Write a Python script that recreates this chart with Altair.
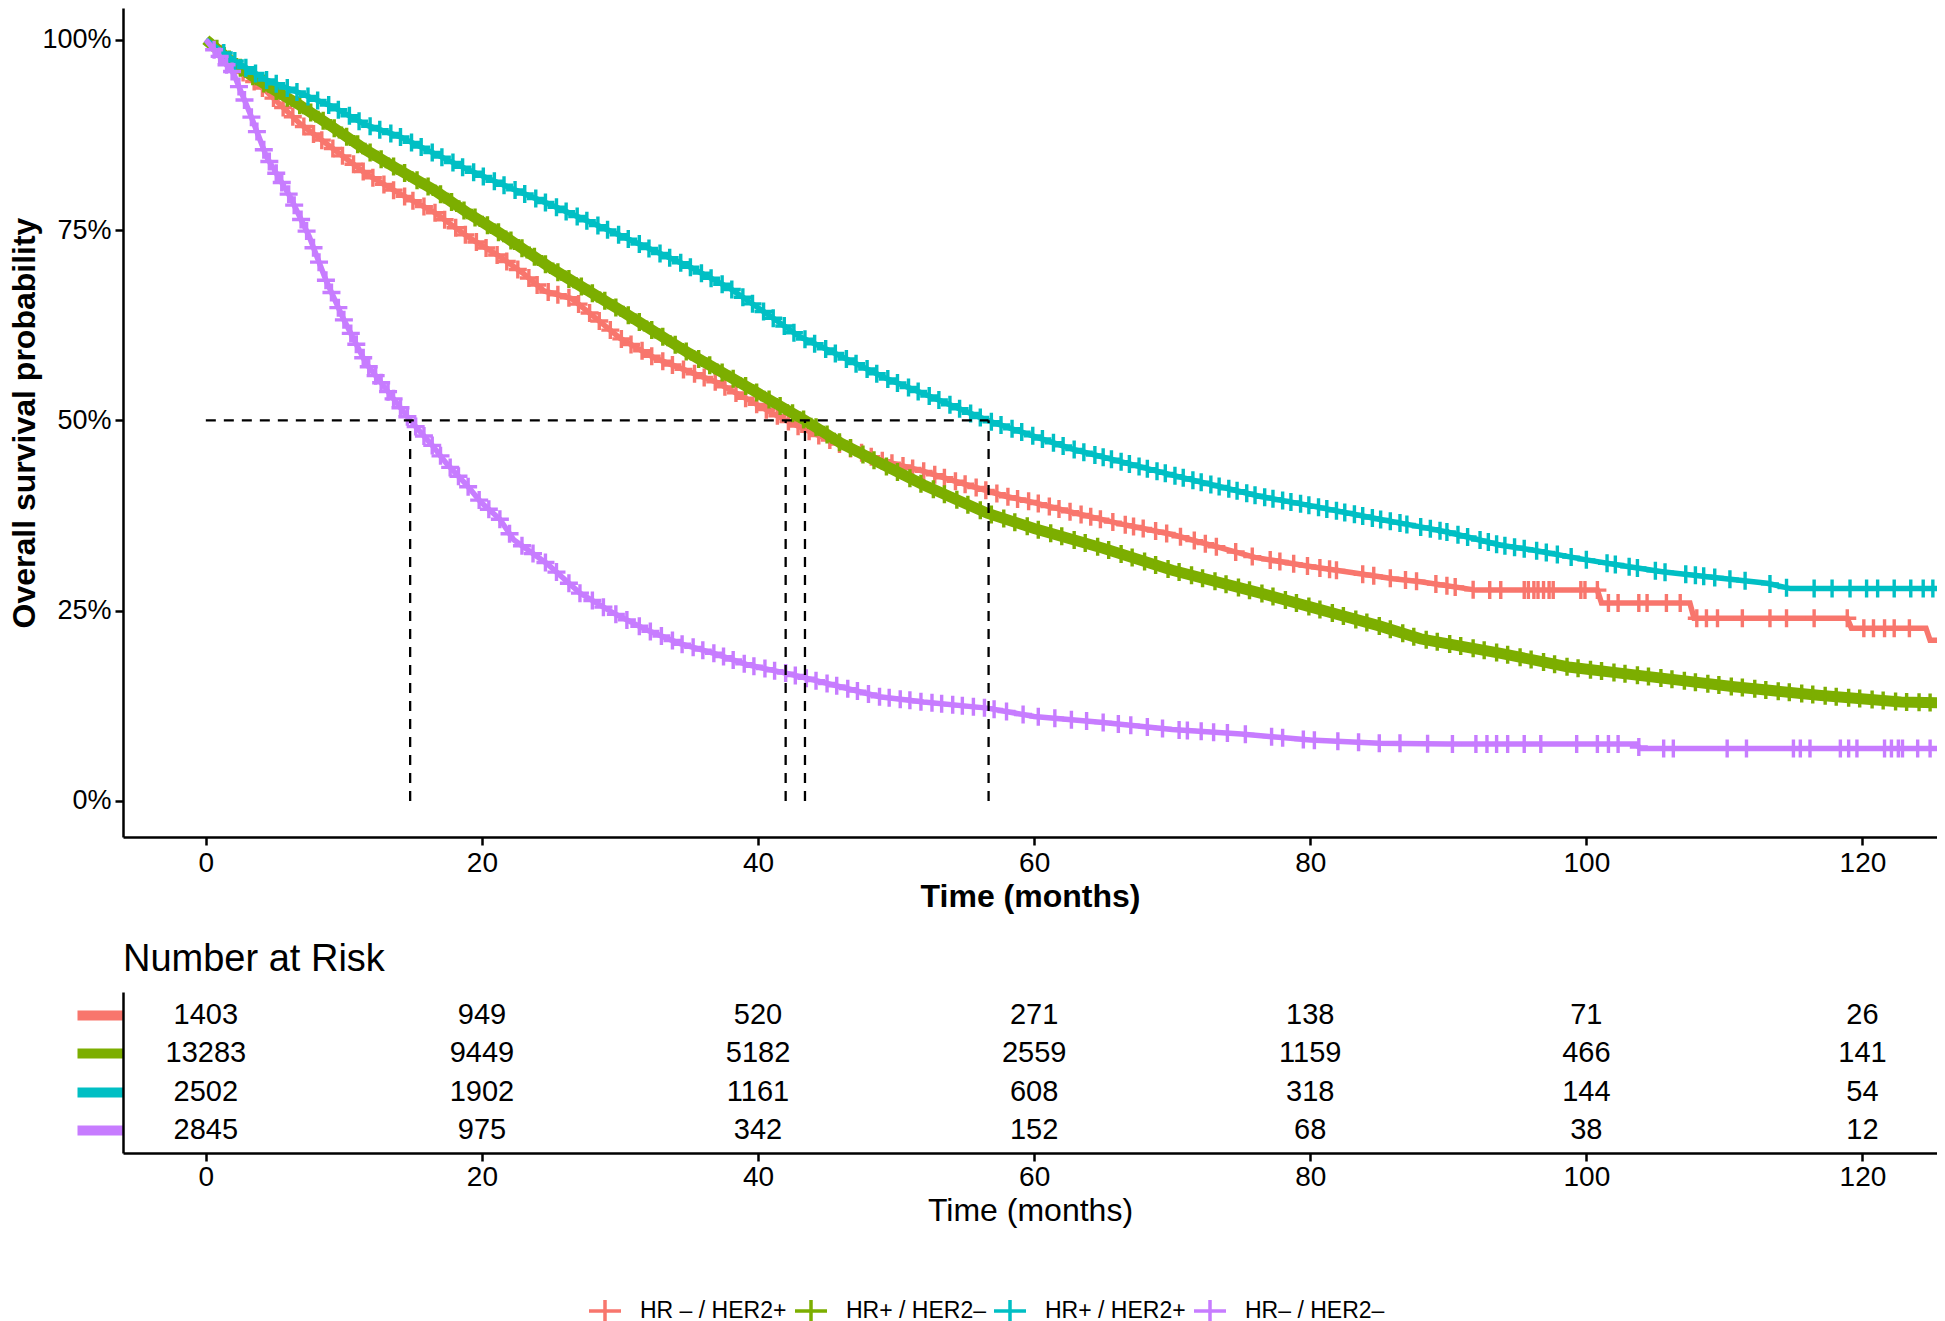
import altair as alt
import pandas as pd
import numpy as np

FONT = "Liberation Sans"
GROUPS = ["HR – / HER2+", "HR+ / HER2–", "HR+ / HER2+", "HR– / HER2–"]
COLORS = ["#F8766D", "#7CAE00", "#00BFC4", "#C77CFF"]
LINE_W = [5.5, 11, 5.5, 5.5]

# ---- survival curves (months, %) ----
red_time = [0, 1, 2, 4.4, 6.8, 9.2, 11.6, 14, 16.5, 19, 21.3, 23, 24.5, 26.5, 28, 30, 32.5, 35, 37, 40,
            42, 44, 46, 48.8, 52, 55, 58, 60, 63, 66, 70, 73, 76, 80, 83, 86, 88, 92, 100.8, 101.1,
            107.5, 107.8, 118.9, 119.2, 124.6, 124.9, 125.7]
red_surv = [100, 98.5, 96.7, 93.2, 89.0, 85.7, 82.4, 79.8, 77.4, 74.1, 71.5, 69.3, 67.0, 66.0, 63.8, 60.8,
            58.2, 56.4, 55.0, 52.0, 50.0, 48.3, 46.8, 44.8, 43.3, 41.6, 40.0, 39.2, 37.8, 36.5, 35.0, 33.5,
            32.0, 30.8, 30.0, 29.2, 28.8, 27.7, 27.7, 26.0, 26.0, 24.0, 24.0, 22.7, 22.7, 21.1, 21.1]

green_time = [0, 1, 2, 4.4, 6.8, 9.2, 11.6, 14, 16.5, 19, 21.3, 25, 30, 35, 39.2, 43.4, 46, 48.8, 52,
              56.6, 60, 65, 70, 76.4, 80, 85, 88, 93.8, 98.7, 104.7, 110.7, 116.8, 122.8, 126]
green_surv = [100, 98.5, 96.9, 94.0, 91.4, 88.5, 85.5, 82.9, 80.3, 77.2, 74.6, 70.0, 64.5, 58.8, 54.4,
              50.0, 47.0, 44.4, 41.5, 37.8, 35.8, 33.2, 30.3, 27.3, 25.5, 23.0, 21.3, 19.4, 17.6, 16.3,
              15.0, 13.9, 13.0, 12.9]

teal_time = [0, 2, 4.4, 6.8, 9.2, 11.6, 14, 16.5, 19, 21.3, 25, 30, 35, 38, 40, 43, 45, 49.3, 52, 56.6,
             60, 63, 66.2, 70, 76.4, 80, 85, 88, 90, 93.8, 96, 99.9, 103, 105.5, 108.6, 113.1, 114.8, 126]
teal_surv = [100, 97.3, 94.7, 93.0, 91.2, 88.8, 87.3, 85.1, 82.9, 81.1, 78.3, 74.3, 70.2, 67.3, 64.8,
             61.0, 59.3, 55.5, 53.5, 50.0, 47.9, 46.1, 44.6, 42.8, 40.0, 38.8, 37.0, 36.0, 35.3, 33.6,
             33.0, 31.7, 30.8, 30.1, 29.5, 28.6, 27.9, 27.9]

purple_time = [0, 2, 3.2, 4.4, 6.1, 7.5, 8.7, 10, 11.6, 13.1, 14.8, 16.5, 17.4, 18.9, 19.9, 21.3, 22.3,
               24.7, 27.1, 29.5, 31.9, 34.3, 36.8, 39.2, 42, 44, 48.8, 52, 56.6, 60, 65, 70, 75, 80, 85,
               90, 95, 100, 103.6, 103.9, 126]
purple_surv = [100, 95.6, 90.3, 84.6, 79.4, 74.1, 68.4, 63.2, 57.5, 54.0, 50.0, 46.5, 44.4, 41.5, 39.3,
               37.0, 34.3, 31.2, 27.3, 24.7, 22.5, 20.7, 19.4, 17.9, 16.8, 15.9, 13.7, 13.0, 12.2, 11.1,
               10.3, 9.4, 8.8, 8.0, 7.6, 7.5, 7.5, 7.5, 7.5, 6.9, 6.9]

# ---- censoring marks (months) ----
red_censor = [1.2, 2.0, 2.7, 3.5, 4.1, 4.9, 5.6, 6.3, 7.1, 7.8, 8.4, 9.2, 9.9, 10.7, 11.4, 12.1, 12.9,
              13.6, 14.4, 15.0, 15.8, 16.6, 17.3, 18.1, 18.8, 19.6, 20.3, 21.1, 21.8, 22.6, 23.4, 24.0,
              24.8, 25.5, 26.3, 27.0, 27.8, 28.5, 29.3, 30.1, 30.8, 31.6, 32.3, 33.1, 33.8, 34.6, 35.4,
              36.1, 36.9, 37.6, 38.4, 39.1, 39.9, 40.6, 41.4, 42.2, 42.9, 43.7, 44.4, 45.2, 45.9, 46.7,
              47.5, 48.2, 49.0, 49.7, 50.5, 51.2, 52.0, 52.8, 53.5, 54.3, 55.0, 55.8, 56.5, 57.3, 58.1,
              58.8, 59.6, 60.3, 61.1, 61.8, 62.6, 63.4, 64.1, 64.8, 65.7, 66.6, 67.2, 67.9, 68.8, 69.6,
              70.6, 71.6, 72.4, 73.2, 74.6, 75.8, 77.1, 77.8, 78.8, 79.8, 80.7, 81.4, 81.9, 83.8, 84.6,
              85.8, 86.9, 87.7, 89.1, 89.9, 90.5, 91.8, 93.0, 93.8, 95.5, 95.8, 96.2, 96.5, 96.9, 97.3,
              97.6, 99.6, 99.9, 100.8, 101.6, 102.3, 103.8, 104.4, 105.8, 106.8, 108.0, 108.7, 109.5,
              111.3, 113.3, 114.5, 116.5, 118.9, 120.1, 120.8, 121.6, 122.3, 123.4, 125.7]
green_censor = [0.8, 1.7, 2.5, 3.4, 4.2, 5.1, 5.9, 6.8, 7.6, 8.5, 9.3, 10.2, 11.0, 11.9, 12.7, 13.6, 14.4,
                15.3, 16.1, 17.0, 17.8, 18.7, 19.5, 20.4, 21.2, 22.1, 22.9, 23.8, 24.6, 25.5, 26.3, 27.2,
                28.0, 28.9, 29.7, 30.6, 31.4, 32.3, 33.1, 34.0, 34.8, 35.7, 36.5, 37.4, 38.2, 39.1, 39.9,
                40.8, 41.6, 42.5, 43.3, 44.2, 45.0, 45.9, 46.7, 47.6, 48.4, 49.3, 50.1, 51.0, 51.8, 52.7,
                53.5, 54.4, 55.2, 56.1, 56.9, 57.8, 58.6, 59.5, 60.3, 61.2, 62.0, 62.9, 63.7, 64.6, 65.4,
                66.3, 67.1, 68.0, 68.8, 69.7, 70.5, 71.4, 72.2, 73.1, 73.9, 74.8, 75.6, 76.5, 77.3, 78.2,
                79.0, 79.9, 80.7, 81.6, 82.4, 83.3, 84.1, 85.0, 85.8, 86.7, 87.5, 88.4, 89.2, 90.1, 90.9,
                91.8, 92.6, 93.5, 94.3, 95.2, 96.0, 96.9, 97.7, 98.6, 99.4, 100.3, 101.1, 102.0, 102.8,
                103.7, 104.5, 105.4, 106.2, 107.1, 107.9, 108.8, 109.6, 110.5, 111.3, 112.2, 113.0,
                113.9, 114.7, 115.6, 116.4, 117.3, 118.1, 119.0, 119.8, 120.7, 121.5, 122.4, 123.2,
                124.1, 124.9, 125.6]
teal_censor = [1.3, 2.1, 2.9, 3.6, 4.4, 5.1, 5.9, 6.6, 7.4, 8.1, 8.9, 9.6, 10.4, 11.1, 11.9, 12.6, 13.4,
               14.1, 14.9, 15.6, 16.4, 17.1, 17.9, 18.6, 19.4, 20.1, 20.9, 21.6, 22.4, 23.1, 23.9, 24.6,
               25.4, 26.1, 26.9, 27.6, 28.4, 29.1, 29.9, 30.6, 31.4, 32.1, 32.9, 33.6, 34.4, 35.1, 35.9,
               36.6, 37.4, 38.1, 38.9, 39.6, 40.4, 41.1, 41.9, 42.6, 43.4, 44.1, 44.9, 45.6, 46.4, 47.1,
               47.9, 48.6, 49.4, 50.1, 50.9, 51.6, 52.4, 53.1, 53.9, 54.6, 55.4, 56.1, 56.9, 57.6, 58.4,
               59.1, 59.9, 60.6, 61.4, 62.1, 62.9, 63.6, 64.4, 65.0, 65.6, 66.3, 66.9, 67.6, 68.2, 68.9,
               69.5, 70.2, 70.8, 71.5, 72.1, 72.8, 73.4, 74.1, 74.7, 75.4, 76.0, 76.7, 77.3, 78.0, 78.6,
               79.3, 79.9, 80.6, 81.2, 81.9, 82.5, 83.2, 83.8, 84.5, 85.1, 85.8, 86.5, 87.0, 88.0, 88.7,
               89.4, 89.9, 90.7, 91.4, 92.3, 92.9, 93.5, 94.1, 94.8, 95.5, 96.4, 97.1, 97.9, 98.9, 100.0,
               101.5, 102.1, 103.1, 103.7, 105.0, 105.7, 107.2, 107.9, 108.5, 109.3, 110.4, 111.5, 113.3,
               114.5, 116.5, 117.8, 119.1, 120.3, 121.1, 122.3, 123.5, 124.4, 125.1]
purple_censor = [0.6, 1.0, 1.5, 1.9, 2.4, 2.8, 3.3, 3.7, 4.2, 4.6, 5.1, 5.5, 6.0, 6.4, 6.9, 7.3, 7.8, 8.2,
                 8.7, 9.1, 9.6, 10.0, 10.5, 10.9, 11.4, 11.8, 12.3, 12.7, 13.2, 13.6, 14.1, 14.6, 15.2,
                 15.8, 16.4, 17.0, 17.7, 18.3, 19.0, 19.8, 20.5, 21.3, 22.0, 22.9, 23.7, 24.6, 25.4, 26.3,
                 27.1, 28.0, 28.8, 29.7, 30.5, 31.4, 32.2, 33.0, 33.8, 34.5, 35.3, 36.0, 36.8, 37.5, 38.2,
                 39.0, 39.7, 40.5, 41.2, 42.0, 42.7, 43.5, 44.2, 45.0, 45.7, 46.5, 47.2, 48.0, 48.8, 49.5,
                 50.3, 51.0, 51.8, 52.6, 53.3, 54.1, 54.8, 55.6, 56.4, 57.1, 58.0, 59.2, 60.3, 61.5, 62.7,
                 63.8, 65.0, 66.1, 67.0, 68.2, 69.3, 70.5, 71.1, 72.1, 73.0, 74.0, 75.3, 77.2, 78.0, 79.5,
                 80.3, 82.0, 83.5, 85.0, 86.5, 88.5, 90.3, 92.0, 92.8, 93.5, 94.3, 95.5, 96.7, 99.3, 100.8,
                 101.6, 102.3, 103.8, 105.6, 106.3, 110.2, 111.6, 115.0, 115.5, 116.2, 118.4, 119.0, 119.6,
                 121.6, 122.1, 122.6, 122.9, 124.0, 124.9]

median_time = [42.0, 43.4, 56.7, 14.8]

# ---- number at risk ----
risk_times = [0, 20, 40, 60, 80, 100, 120]
risk_red = [1403, 949, 520, 271, 138, 71, 26]
risk_green = [13283, 9449, 5182, 2559, 1159, 466, 141]
risk_teal = [2502, 1902, 1161, 608, 318, 144, 54]
risk_purple = [2845, 975, 342, 152, 68, 38, 12]

x_ticks = [0, 20, 40, 60, 80, 100, 120]
y_ticks = [0, 0.25, 0.5, 0.75, 1.0]

# ---- build tables ----
times = [red_time, green_time, teal_time, purple_time]
survs = [red_surv, green_surv, teal_surv, purple_surv]
censors = [red_censor, green_censor, teal_censor, purple_censor]
risks = [risk_red, risk_green, risk_teal, risk_purple]

curve_dfs, censor_dfs = [], []
for g, t, s, c in zip(GROUPS, times, survs, censors):
    curve_dfs.append(pd.DataFrame({"group": g, "time": t, "surv": np.array(s) / 100.0}))
    censor_dfs.append(pd.DataFrame({"group": g, "time": c,
                                    "surv": np.interp(c, t, s) / 100.0}))

risk_df = pd.concat([pd.DataFrame({"group": g, "time": risk_times, "n": r})
                     for g, r in zip(GROUPS, risks)], ignore_index=True)
med_df = pd.DataFrame({"time": median_time})
hline_df = pd.DataFrame({"time": [0.0], "time_end": [max(median_time)]})

# ---- scales / axes ----
x_scale = alt.Scale(domain=[-6.0, 125.4], nice=False, zero=False)
y_scale = alt.Scale(domain=[-0.0473, 1.0416], nice=False, zero=False)

x_axis_km = alt.Axis(values=x_ticks, format="d", title="Time (months)", titleFontWeight="bold",
                     titleFontSize=32, labelFontSize=28, tickSize=8, tickWidth=2.5, domainWidth=2.5,
                     labelPadding=4, titlePadding=4, grid=False)
y_axis_km = alt.Axis(values=y_ticks, format=".0%", title="Overall survival probability",
                     titleFontWeight="bold", titleFontSize=32, labelFontSize=27, tickSize=8,
                     tickWidth=2.5, domainWidth=2.5, labelPadding=4, titlePadding=0, grid=False)

color_enc = alt.Color("group:N", scale=alt.Scale(domain=GROUPS, range=COLORS),
                      legend=alt.Legend(orient="none", legendX=470, legendY=1291,
                                        direction="horizontal", title=None,
                                        symbolType="M-1.6,0H1.6M0,-1.1V1.1", symbolSize=400,
                                        symbolStrokeWidth=3.5, labelFontSize=23, labelFont=FONT,
                                        labelOffset=23, columnPadding=1, labelColor="black"))

X = alt.X("time:Q", scale=x_scale, axis=x_axis_km)
Y = alt.Y("surv:Q", scale=y_scale, axis=y_axis_km)

PLUS = "M-1,0H1M0,-1V1"
layers = []
for g, cdf, kdf, w in zip(GROUPS, curve_dfs, censor_dfs, LINE_W):
    layers.append(alt.Chart(cdf).mark_line(strokeWidth=w, clip=True).encode(x=X, y=Y, color=color_enc))
    layers.append(alt.Chart(kdf).mark_point(shape=PLUS, size=324, filled=False, strokeWidth=3.4,
                                            opacity=1, clip=True).encode(x=X, y=Y, color=color_enc))

vrules = alt.Chart(med_df).mark_rule(strokeDash=[10, 8], strokeWidth=2.3, color="black").encode(
    x=X, y=alt.datum(0.0), y2=alt.datum(0.5))
hrule = alt.Chart(hline_df).mark_rule(strokeDash=[10, 8], strokeWidth=2.3, color="black").encode(
    x=X, x2="time_end:Q", y=alt.datum(0.5))

km = alt.layer(*layers, vrules, hrule).properties(width=1814, height=829)

# ---- risk table ----
tick_color = {"condition": [{"test": f"datum.value === '{g}'", "value": c}
                            for g, c in zip(GROUPS, COLORS)], "value": "black"}
x_axis_risk = alt.Axis(values=x_ticks, format="d", title="Time (months)", titleFontWeight="normal",
                       titleFontSize=32, labelFontSize=28, tickSize=8, tickWidth=2.5, domainWidth=2.5,
                       labelPadding=2, titlePadding=4, grid=False)
y_axis_risk = alt.Axis(labels=False, title=None, tickSize=46, tickWidth=10, tickColor=tick_color,
                       domainWidth=2.5, grid=False)

risk = alt.Chart(risk_df).mark_text(fontSize=29, font=FONT, color="black", baseline="middle",
                                    align="center").encode(
    x=alt.X("time:Q", scale=x_scale, axis=x_axis_risk),
    y=alt.Y("group:N", scale=alt.Scale(type="point", domain=GROUPS, padding=0.6), axis=y_axis_risk),
    text=alt.Text("n:Q", format="d"),
).properties(width=1814, height=161,
             title=alt.TitleParams("Number at Risk", anchor="start", frame="group", fontSize=38,
                                   fontWeight="normal", font=FONT, color="black", offset=13))

chart = alt.vconcat(km, risk, spacing=155, bounds="flush").properties(padding=0).configure(
    font=FONT).configure_axis(labelFont=FONT, titleFont=FONT, labelColor="black", titleColor="black",
                              domainColor="black", tickColor="black").configure_view(stroke=None)

chart.save("out.html", embed_options={"renderer": "svg", "actions": False})
